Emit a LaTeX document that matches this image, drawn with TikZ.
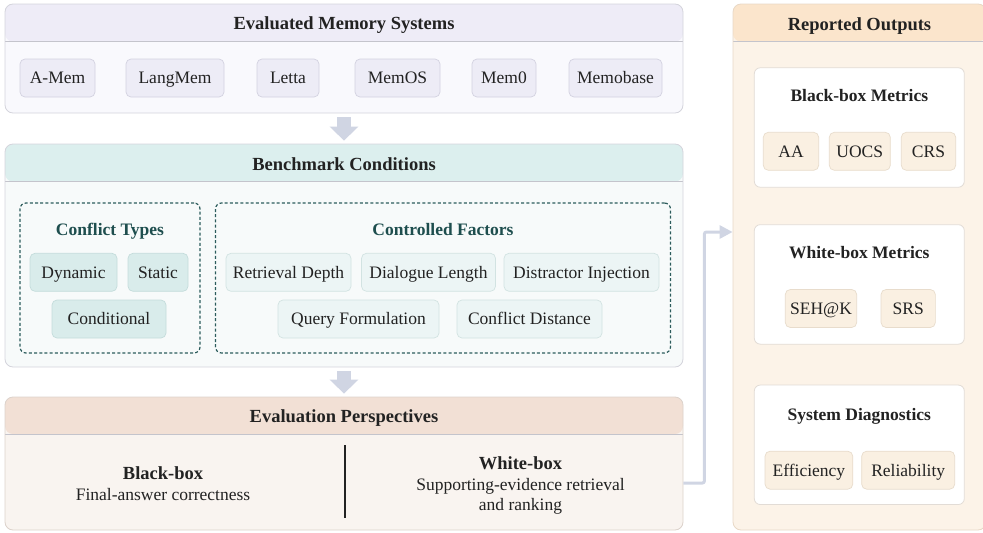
\documentclass[tikz,border=0pt]{standalone}
\usepackage{fontspec}
\setmainfont{Liberation Serif}
\usetikzlibrary{arrows.meta}
\definecolor{txt}{HTML}{222222}
\definecolor{lavH}{HTML}{EEECF7}
\definecolor{lavB}{HTML}{F9F9FD}
\definecolor{lavI}{HTML}{EDECF6}
\definecolor{lavIB}{HTML}{D3D2E0}
\definecolor{bordG}{HTML}{D4D4DC}
\definecolor{tealH}{HTML}{DCEFEE}
\definecolor{tealB}{HTML}{F7FAFA}
\definecolor{tealI}{HTML}{D9ECEB}
\definecolor{tealIB}{HTML}{C4DCDB}
\definecolor{tealJ}{HTML}{ECF5F5}
\definecolor{tealJB}{HTML}{D2E3E2}
\definecolor{tealD}{HTML}{2C5C5C}
\definecolor{tealT}{HTML}{1E4E4E}
\definecolor{peachH}{HTML}{F2E0D5}
\definecolor{peachB}{HTML}{F9F4F0}
\definecolor{peachBd}{HTML}{DCD2CB}
\definecolor{orH}{HTML}{FBE5CC}
\definecolor{orB}{HTML}{FCF3E8}
\definecolor{orBd}{HTML}{E8D8C6}
\definecolor{metI}{HTML}{FAF0E2}
\definecolor{metIB}{HTML}{E8DCCC}
\definecolor{wBd}{HTML}{E2DCD6}
\definecolor{arrC}{HTML}{D0D5E3}
\definecolor{sepC}{HTML}{C4C4CC}
\begin{document}
\begin{tikzpicture}[x=1pt,y=-1pt,
  every node/.style={text=txt},
  regfont/.style={font=\fontsize{17.5}{20.7}\selectfont},
  hdrtext/.style={font=\fontsize{18.5}{21}\selectfont\bfseries, text height=12.25pt, text depth=0pt, inner sep=0pt},
  subtitle/.style={font=\fontsize{17.5}{21}\selectfont\bfseries, text height=11.6pt, text depth=0pt, inner sep=0pt},
  bigbox/.style 2 args={draw=#2, fill=#1, rounded corners=8pt, inner sep=0pt, line width=0.8pt},
  hdr/.style 2 args={path picture={
     \fill[#1] (path picture bounding box.north west) rectangle ([yshift=-#2]path picture bounding box.north east);
     \draw[line width=1pt, sepC] ([yshift=-#2]path picture bounding box.north west) -- ([yshift=-#2]path picture bounding box.north east);}},
  item/.style 2 args={draw=#2, fill=#1, rounded corners=5pt, minimum height=38pt, inner sep=0pt, line width=0.7pt, regfont, text height=11.6pt, text depth=0pt},
  dashbox/.style={draw=tealD, rounded corners=6pt, line width=1.2pt, dash pattern=on 3pt off 2.2pt, inner sep=0pt},
  whitebox/.style={draw=wBd, fill=white, rounded corners=6pt, line width=0.8pt, inner sep=0pt, minimum width=210pt, minimum height=119.5pt},
  downarr/.style={draw=arrC, line width=14pt, -{Triangle[width=28pt,length=14pt]}},
  conn/.style={draw=arrC, line width=3pt, rounded corners=2pt, -{Triangle[width=13pt,length=13pt]}}
]
\useasboundingbox (0,0) rectangle (983,533);
\clip (0,0) rectangle (983,533);

% ---------- Evaluated Memory Systems ----------
\node[bigbox={lavB}{bordG}, hdr={lavH}{37.5pt}, minimum width=678pt, minimum height=109pt] (ems) at (344,58.5) {};
\node[hdrtext] (emsT) at (344,23.7) {Evaluated Memory Systems};
\node[item={lavI}{lavIB}, minimum width=75pt] (amem) at (57.5,78) {A-Mem};
\node[item={lavI}{lavIB}, minimum width=98pt] (langmem) at (175,78) {LangMem};
\node[item={lavI}{lavIB}, minimum width=62pt] (letta) at (288,78) {Letta};
\node[item={lavI}{lavIB}, minimum width=85pt] (memos) at (397.5,78) {MemOS};
\node[item={lavI}{lavIB}, minimum width=64pt] (mem0) at (504,78) {Mem0};
\node[item={lavI}{lavIB}, minimum width=93pt] (memobase) at (615.5,78) {Memobase};

% ---------- Benchmark Conditions ----------
\node[bigbox={tealB}{bordG}, hdr={tealH}{37.5pt}, minimum width=678pt, minimum height=223pt] (bench) at (344,255.5) {};
\node[hdrtext] (benchT) at (344,164.5) {Benchmark Conditions};

\node[dashbox, minimum width=180pt, minimum height=150pt] (ct) at (110,278) {};
\node[subtitle, text=tealT] (ctT) at (110,230) {Conflict Types};
\node[item={tealI}{tealIB}, minimum width=87pt] (dyn) at (73.5,272.3) {Dynamic};
\node[item={tealI}{tealIB}, minimum width=60pt] (stat) at (158,272.3) {Static};
\node[item={tealI}{tealIB}, minimum width=114pt] (cond) at (109,319) {Conditional};

\node[dashbox, minimum width=455pt, minimum height=150pt] (cf) at (443,278) {};
\node[subtitle, text=tealT] (cfT) at (443,230) {Controlled Factors};
\node[item={tealJ}{tealJB}, minimum width=125pt] (rd) at (288.5,272.3) {Retrieval Depth};
\node[item={tealJ}{tealJB}, minimum width=134pt] (dl) at (428.5,272.3) {Dialogue Length};
\node[item={tealJ}{tealJB}, minimum width=155pt] (di) at (581.5,272.3) {Distractor Injection};
\node[item={tealJ}{tealJB}, minimum width=161pt] (qf) at (358.5,319) {Query Formulation};
\node[item={tealJ}{tealJB}, minimum width=145pt] (cdist) at (529.5,319) {Conflict Distance};

% ---------- Evaluation Perspectives ----------
\node[bigbox={peachB}{peachBd}, hdr={peachH}{37pt}, minimum width=678pt, minimum height=133pt] (persp) at (344,463.5) {};
\node[hdrtext] (perspT) at (344,416.5) {Evaluation Perspectives};
\node[regfont, align=center, inner sep=0pt] (bb) at (163,483.5) {{\fontsize{18.5}{20.7}\selectfont\bfseries Black-box}\\Final-answer correctness};
\node[regfont, align=center, inner sep=0pt] (wb) at (520.5,485.5) {{\fontsize{18.5}{20.7}\selectfont\bfseries White-box}\\Supporting-evidence retrieval\\and ranking};
\draw[line width=1.2pt, txt] (345,445) -- (345,518);

% ---------- Reported Outputs ----------
\node[bigbox={orB}{orBd}, hdr={orH}{37.5pt}, minimum width=253pt, minimum height=526pt] (out) at (859.5,267) {};
\node[hdrtext] (outT) at (859.5,24.5) {Reported Outputs};

\node[whitebox] (bbm) at (859.3,127.5) {};
\node[subtitle] (bbmT) at (859.3,95.5) {Black-box Metrics};
\node[item={metI}{metIB}, minimum width=55.4pt] (aa) at (791,151.3) {AA};
\node[item={metI}{metIB}, minimum width=61pt] (uocs) at (859.8,151.3) {UOCS};
\node[item={metI}{metIB}, minimum width=54.4pt] (crs) at (928.5,151.3) {CRS};

\node[whitebox] (wbm) at (859.3,284.4) {};
\node[subtitle] (wbmT) at (859.3,252.5) {White-box Metrics};
\node[item={metI}{metIB}, minimum width=71.4pt] (sehk) at (821,308.5) {SEH@K};
\node[item={metI}{metIB}, minimum width=54.3pt] (srs) at (908.2,308.5) {SRS};

\node[whitebox] (sd) at (859.3,444.8) {};
\node[subtitle] (sdT) at (859.3,414.2) {System Diagnostics};
\node[item={metI}{metIB}, minimum width=87.7pt] (eff) at (808.9,470.2) {Efficiency};
\node[item={metI}{metIB}, minimum width=93pt] (rel) at (908.2,470.2) {Reliability};

% ---------- Arrows ----------
\draw[downarr] ([yshift=-4pt]ems.south) -- ([yshift=3pt]bench.north);
\draw[downarr] ([yshift=-4pt]bench.south) -- ([yshift=3pt]persp.north);
\draw[conn] ([yshift=-19.5pt]persp.east) -- ++(21,0) |- ([yshift=35pt]out.west);
\end{tikzpicture}
\end{document}
